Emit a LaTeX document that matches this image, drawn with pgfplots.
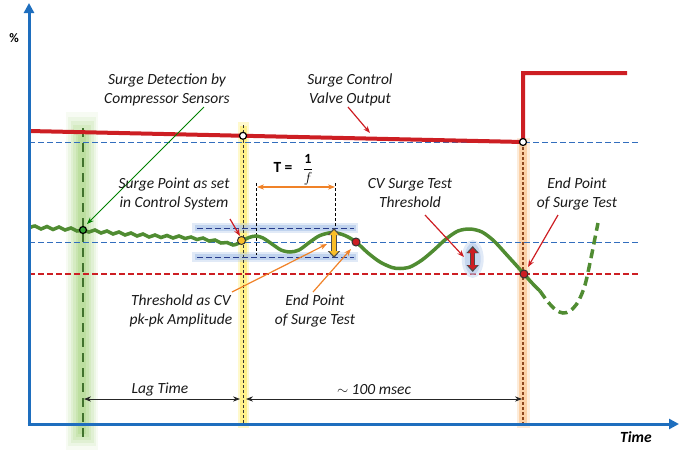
\documentclass[border=0pt]{standalone}
\usepackage{pgfplots}
\pgfplotsset{compat=1.18}
\usepackage{fontspec}
\setmainfont{Carlito}
\usetikzlibrary{arrows.meta}
\definecolor{axblue}{RGB}{30,110,190}
\definecolor{valvered}{RGB}{205,30,35}
\definecolor{dashblue}{RGB}{50,110,190}
\definecolor{navy}{RGB}{40,60,140}
\definecolor{glowblue}{RGB}{170,195,232}
\definecolor{wavegreen}{RGB}{80,140,50}
\definecolor{bandgreen}{RGB}{140,200,90}
\definecolor{dgreen}{RGB}{65,115,45}
\definecolor{bandyellow}{RGB}{255,238,110}
\definecolor{bandorange}{RGB}{250,200,150}
\definecolor{dorange}{RGB}{140,70,30}
\definecolor{arrorange}{RGB}{240,130,40}
\definecolor{ylw}{RGB}{250,190,40}
\definecolor{txt}{RGB}{25,25,25}
\newcommand\lab{\fontsize{15.5}{19}\selectfont\itshape}
\begin{document}
\begin{tikzpicture}
\begin{axis}[width=697pt,height=452pt,scale only axis,
  xmin=0,xmax=697,ymin=0,ymax=452,y dir=reverse,
  hide axis, clip=false]
\path (axis cs:0,0) rectangle (axis cs:697,452);
% glow bands
\addplot[bandgreen, line width=32pt, opacity=0.07] coordinates {(82,112)(82,450)};
\addplot[bandgreen, line width=28pt, opacity=0.1] coordinates {(82,117)(82,446)};
\addplot[bandgreen, line width=23pt, opacity=0.12] coordinates {(82,121)(82,443)};
\addplot[bandgreen, line width=18pt, opacity=0.14] coordinates {(82,125)(82,440)};
\addplot[bandgreen, line width=13pt, opacity=0.16] coordinates {(82,130)(82,437)};
\addplot[bandgreen, line width=8pt, opacity=0.2] coordinates {(82,135)(82,434)};
\addplot[bandyellow, line width=11pt, opacity=0.35] coordinates {(243,122)(243,428)};
\addplot[bandyellow, line width=7pt, opacity=0.7] coordinates {(243,126)(243,425)};
\addplot[bandorange, line width=13pt, opacity=0.35] coordinates {(523,138)(523,428)};
\addplot[bandorange, line width=8pt, opacity=0.75] coordinates {(523,142)(523,425)};
\addplot[glowblue, line width=10pt, opacity=0.35] coordinates {(192,228.3)(358,228.3)};
\addplot[glowblue, line width=6pt, opacity=0.6] coordinates {(195,228.3)(356,228.3)};
\addplot[glowblue, line width=10pt, opacity=0.35] coordinates {(192,257.3)(358,257.3)};
\addplot[glowblue, line width=6pt, opacity=0.6] coordinates {(195,257.3)(356,257.3)};
% band center lines
\addplot[dgreen, line width=2pt, dash pattern=on 9pt off 6pt] coordinates {(83,128)(83,440)};
\addplot[black!80, line width=0.8pt, dash pattern=on 3pt off 2pt] coordinates {(243,125)(243,425)};
\addplot[dorange, line width=1.2pt, dash pattern=on 3pt off 2pt] coordinates {(523,142)(523,425)};
% horizontal dashed references
\addplot[dashblue, line width=1pt, dash pattern=on 6pt off 3pt] coordinates {(29,142)(640,142)};
\addplot[dashblue, line width=1.2pt, dash pattern=on 6pt off 3pt] coordinates {(29,242.3)(640,242.3)};
\addplot[valvered, line width=1.4pt, dash pattern=on 6pt off 3pt] coordinates {(29,274)(640,274)};
\addplot[navy, line width=1.5pt, dash pattern=on 6pt off 3pt] coordinates {(197,228.3)(354,228.3)};
\addplot[navy, line width=1.5pt, dash pattern=on 6pt off 3pt] coordinates {(197,257.3)(354,257.3)};
% period markers
\addplot[black, line width=0.6pt, dash pattern=on 3pt off 2pt] coordinates {(256,183)(256,255)};
\addplot[black, line width=0.6pt, dash pattern=on 3pt off 2pt] coordinates {(335.7,183)(335.7,228)};
% valve output
\addplot[valvered, line width=4pt] coordinates {(29,131)(523,142)(523,73)(627,73)};
% surge signal
\addplot[wavegreen, line width=3.5pt, smooth] coordinates {
(29,228)(35,226)(41,229)(47,226.5)(53,229.5)(59,227)(65,230)(71,228)(77,231)(83,230)
(89,232)(95,230)(101,233)(107,231)(113,234)(119,232)(125,235)(131,233)(137,236)(143,234)
(149,237)(155,235)(161,237.5)(167,235.5)(173,238)(179,236)(185,238.5)(191,237)(197,239.5)
(203,238)(209,241)(215,240)(221,243)(227,242.5)(233,245)(238,243.5)(242,241)};
\addplot[wavegreen, line width=3.5pt, smooth] coordinates {
(242,241)(249,237.5)(256,236)(263,238)(272,244)(281,250)(290,252)(299,250)(310,242)
(320,235.5)(333,232.5)(345,235.5)(356,242)(368,253)(380,262)(392,267.5)(400,268.5)
(410,267)(422,260)(434,250)(446,239)(458,231)(470,229)(482,232)(494,241)(506,254)
(516,265)(524,274)(532,283)(540,291)};
\addplot[wavegreen, line width=3.5pt, smooth, dash pattern=on 9pt off 5pt] coordinates {
(540,291)(548,302)(556,310)(563,313)(570,311)(578,302)(585,285)(591,258)(595,238)(598,223)};
% markers
\addplot[only marks, mark=*, mark size=3.5pt, mark options={fill=white, draw=black, line width=1.2pt}] coordinates {(243,135.8)(523,142)};
\addplot[only marks, mark=*, mark size=3.5pt, mark options={fill=green!55!black!80, draw=black, line width=1.2pt}] coordinates {(83,230)};
\addplot[only marks, mark=*, mark size=4pt, mark options={fill=ylw, draw=black!80, line width=1pt}] coordinates {(241.5,240.5)};
\addplot[only marks, mark=*, mark size=4pt, mark options={fill=valvered, draw=black!80, line width=1pt}] coordinates {(356,242)(524,274)};
% axes
\draw[axblue, line width=3pt, -{Triangle[width=10pt,length=10pt]}] (axis cs:29,424) -- (axis cs:29,3);
\draw[axblue, line width=3pt, -{Triangle[width=10pt,length=10pt]}] (axis cs:27.5,424) -- (axis cs:679,424);
\node[font=\fontsize{13}{15}\selectfont\bfseries] at (axis cs:14,38) {\%};
\node[font=\fontsize{15.5}{18}\selectfont\bfseries\itshape] at (axis cs:636,437) {Time};
% T = 1/f
\draw[arrorange, line width=1.6pt, {Stealth[length=7pt]}-{Stealth[length=7pt]}] (axis cs:257,187) -- (axis cs:335,187);
\node[font=\fontsize{15.5}{18}\selectfont\bfseries] at (axis cs:283,167) {T =};
\node[font=\fontsize{14}{16}\selectfont] at (axis cs:308,170) {$\displaystyle\frac{\mathbf{1}}{f}$};
% double arrows
\draw[black!70, line width=5.5pt, {Triangle[width=12pt,length=7pt]}-{Triangle[width=12pt,length=7pt]}] (axis cs:334,228) -- (axis cs:334,258);
\draw[ylw, line width=3.5pt, {Triangle[width=9pt,length=5pt]}-{Triangle[width=9pt,length=5pt]}] (axis cs:334,230) -- (axis cs:334,256);
\fill[glowblue, opacity=0.35] (axis cs:472.7,259) ellipse [x radius=11pt, y radius=19pt];
\fill[glowblue, opacity=0.5] (axis cs:472.7,259) ellipse [x radius=8pt, y radius=16pt];
\draw[black!70, line width=5.5pt, {Triangle[width=12pt,length=7pt]}-{Triangle[width=12pt,length=7pt]}] (axis cs:472.7,246) -- (axis cs:472.7,272);
\draw[valvered, line width=3.5pt, {Triangle[width=9pt,length=5pt]}-{Triangle[width=9pt,length=5pt]}] (axis cs:472.7,248) -- (axis cs:472.7,270);
% time spans
\draw[black!85, line width=0.8pt, {Stealth[length=7pt]}-{Stealth[length=7pt]}] (axis cs:84,399) -- (axis cs:240,399);
\draw[black!85, line width=0.8pt, {Stealth[length=7pt]}-{Stealth[length=7pt]}] (axis cs:246,399) -- (axis cs:522,399);
\node[font=\lab, text=txt] at (axis cs:160,389) {Lag Time};
\node[font=\lab, text=txt] at (axis cs:374,390) {$\sim$ 100 msec};
% annotation arrows
\draw[green!50!black, line width=1pt, -{Stealth[length=7pt]}] (axis cs:204,107) -- (axis cs:87,224);
\draw[valvered, line width=1.2pt, -{Stealth[length=7pt]}] (axis cs:348,107) -- (axis cs:370,133);
\draw[valvered, line width=1.2pt, -{Stealth[length=7pt]}] (axis cs:230,219) -- (axis cs:240,236);
\draw[valvered, line width=1.2pt, -{Stealth[length=7pt]}] (axis cs:425,215) -- (axis cs:464,257);
\draw[valvered, line width=1.2pt, -{Stealth[length=7pt]}] (axis cs:558,215) -- (axis cs:528,267);
\draw[arrorange, line width=1.2pt, -{Stealth[length=7pt]}] (axis cs:232,292) -- (axis cs:327,244);
\draw[arrorange, line width=1.2pt, -{Stealth[length=7pt]}] (axis cs:313,292) -- (axis cs:351,249);
% labels
\node[font=\lab, text=txt, align=center] at (axis cs:167,89.5) {Surge Detection by\\Compressor Sensors};
\node[font=\lab, text=txt, align=center] at (axis cs:350,89.5) {Surge Control\\Valve Output};
\node[font=\lab, text=txt, align=center] at (axis cs:174,193.5) {Surge Point as set\\in Control System};
\node[font=\lab, text=txt, align=center] at (axis cs:410,193.5) {CV Surge Test\\Threshold};
\node[font=\lab, text=txt, align=center] at (axis cs:577,194) {End Point\\of Surge Test};
\node[font=\lab, text=txt, align=center] at (axis cs:181,310.5) {Threshold as CV\\pk-pk Amplitude};
\node[font=\lab, text=txt, align=center] at (axis cs:315,310.5) {End Point\\of Surge Test};
\end{axis}
\end{tikzpicture}
\end{document}
